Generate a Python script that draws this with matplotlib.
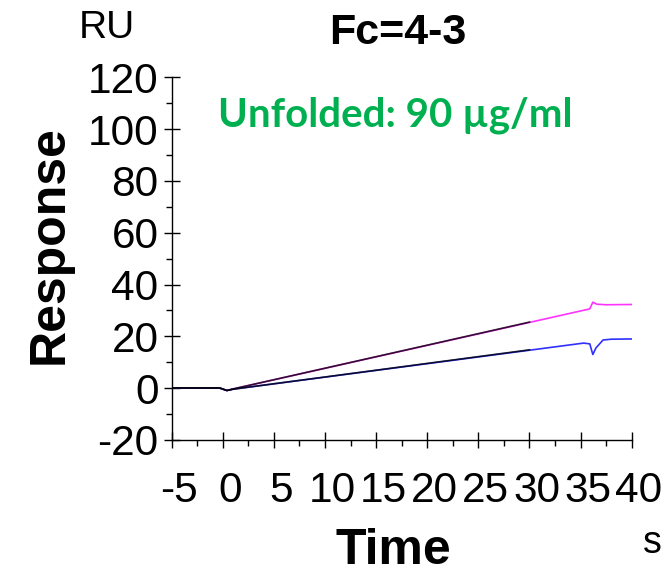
import numpy as np
import matplotlib.pyplot as plt
import matplotlib.transforms as mtransforms
from matplotlib.ticker import MultipleLocator

plt.rcParams['font.family'] = ['Liberation Sans', 'DejaVu Sans']
plt.rcParams['axes.unicode_minus'] = False

# sensorgram traces (time in s, response in RU)
t_mag = [-5, -0.3, 0.4, 1.0, 35.9, 36.2, 36.6, 37.5, 40]
r_mag = [0, 0, -0.9, -0.3, 30.6, 33.2, 32.4, 32.2, 32.3]

t_blue = [-5, -0.3, 0.4, 1.0, 35.3, 35.9, 36.2, 36.5, 37.2, 38, 40]
r_blue = [0, 0, -0.9, -0.4, 17.4, 17.1, 13.0, 15.5, 18.6, 18.9, 19.0]

# black fitted curves on top
t_fit = [-5, -0.3, 0.4, 1.0, 30]
r_fit_hi = [0.1, 0.1, -0.9, -0.3, 25.5]
r_fit_lo = [0.1, 0.1, -0.9, -0.4, 14.8]

xticks = [-5, 0, 5, 10, 15, 20, 25, 30, 35, 40]
yticks = [-20, 0, 20, 40, 60, 80, 100, 120]

fig = plt.figure(figsize=(6.72, 5.75), dpi=100)
ax = fig.add_axes([0.2555, 0.2348, 0.6845, 0.6308])

ax.plot(t_mag, r_mag, color='#ff33ff', lw=1.2)
ax.plot(t_blue, r_blue, color='#3030ff', lw=1.2)
ax.plot(t_fit, r_fit_hi, color='black', lw=1.2, alpha=0.8)
ax.plot(t_fit, r_fit_lo, color='black', lw=1.2, alpha=0.8)

ax.set_xlim(-5, 40)
ax.set_ylim(-20, 120)
ax.set_xticks(xticks)
ax.set_yticks(yticks)
ax.set_xticklabels([str(v) for v in xticks])
ax.set_yticklabels([str(v) for v in yticks])
ax.xaxis.set_minor_locator(MultipleLocator(2.5))
ax.yaxis.set_minor_locator(MultipleLocator(10))

for s in ['top', 'right']:
    ax.spines[s].set_visible(False)
for s in ['left', 'bottom']:
    ax.spines[s].set_linewidth(1.0)

ax.tick_params(axis='both', which='major', direction='inout', length=11, width=1.0, labelsize=30.5)
ax.tick_params(axis='x', which='major', pad=17)
ax.tick_params(axis='y', which='major', pad=4)
ax.tick_params(axis='both', which='minor', direction='out', length=4.5, width=1.0)

# labels sit a bit right of their ticks
offset = mtransforms.ScaledTranslation(7/100, 0, fig.dpi_scale_trans)
for lab in ax.get_xticklabels():
    lab.set_transform(lab.get_transform() + offset)

W, H = 672, 575
fig.text(107/W, 1-28/H, 'RU', fontsize=28, ha='center', va='center')
fig.text(398/W, 1-33/H, 'Fc=4-3', fontsize=31, fontweight='bold', ha='center', va='center')
fig.text(50/W, 1-245/H, 'Response', fontsize=36, fontweight='bold', rotation=90, ha='center', va='center')
fig.text(393/W, 1-564/H, 'Time', fontsize=36, fontweight='bold', ha='center', va='baseline')
fig.text(652/W, 1-543/H, 's', fontsize=27, ha='center', va='center')
fig.text(218/W, 1-115/H, 'Unfolded: 90 µg/ml', fontsize=29, fontweight='bold', color='#00b050',
         family=['Lato', 'DejaVu Sans'], ha='left', va='center')

fig.savefig('out.png', dpi=100)
